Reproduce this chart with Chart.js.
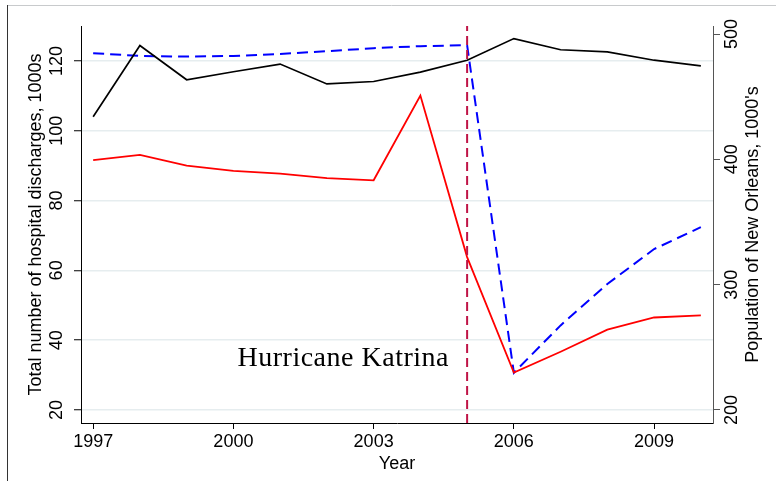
<!DOCTYPE html>
<html>
<head>
<meta charset="utf-8">
<script src="https://cdn.jsdelivr.net/npm/chart.js@4"></script>
<style>
  body { margin: 0; background: #fff; }
</style>
</head>
<body>
<canvas id="myChart" width="776" height="481"></canvas>
<script>
// Datos
const years = [1997, 1998, 1999, 2000, 2001, 2002, 2003, 2004, 2005, 2006, 2007, 2008, 2009, 2010];
const dischargesTotal = [104.0, 124.4, 114.6, 116.9, 119.1, 113.4, 114.1, 116.8, 120.2, 126.4, 123.2, 122.6, 120.2, 118.6];
const dischargesRed = [91.6, 93.1, 90.0, 88.5, 87.7, 86.4, 85.8, 110.1, 63.8, 30.7, 36.7, 43.0, 46.5, 47.1];
const population = [484.7, 482.5, 482.0, 482.5, 484.1, 486.3, 488.7, 490.3, 491.1, 229.7, 267.5, 300.5, 328.4, 345.9];
const katrinaYear = 2005;

const yearTicks = [1997, 2000, 2003, 2006, 2009];
const leftTicks = [20, 40, 60, 80, 100, 120];
const rightTicks = [200, 300, 400, 500];

const xMin = 1996.74, xMax = 2010.26;
const leftMin = 16.28, leftMax = 130;
const rightMin = 189.6, rightMax = 506.4;

Chart.defaults.font.family = '"Liberation Sans", Arial, sans-serif';
Chart.defaults.font.size = 18;
Chart.defaults.color = '#000';

function toPoints(xs, ys) {
  return xs.map((x, i) => ({ x: x, y: ys[i] }));
}

// Marco exterior y textos extra
const extras = {
  id: 'extras',
  beforeDraw(chart) {
    const ctx = chart.ctx;
    ctx.save();
    ctx.fillStyle = '#fff';
    ctx.fillRect(0, 0, chart.width, chart.height);
    ctx.lineWidth = 1;
    ctx.strokeStyle = '#c8cacc';
    ctx.beginPath();
    ctx.moveTo(7, 5.5);
    ctx.lineTo(chart.width, 5.5);
    ctx.stroke();
    ctx.strokeStyle = '#333';
    ctx.beginPath();
    ctx.moveTo(7.5, 5);
    ctx.lineTo(7.5, chart.height);
    ctx.stroke();
    ctx.restore();
  },
  afterDraw(chart) {
    const ctx = chart.ctx;
    const x = chart.scales.x;
    const y = chart.scales.y;
    const area = chart.chartArea;
    ctx.save();
    ctx.fillStyle = '#000';
    ctx.font = '28px "Liberation Serif", "DejaVu Serif", serif';
    ctx.letterSpacing = '0.5px';
    ctx.textAlign = 'center';
    ctx.textBaseline = 'alphabetic';
    ctx.fillText('Hurricane Katrina', x.getPixelForValue(2002.35), y.getPixelForValue(32.7));
    ctx.letterSpacing = '0px';

    ctx.font = '18px "Liberation Sans", Arial, sans-serif';
    ctx.translate(753, (area.top + area.bottom) / 2);
    ctx.rotate(-Math.PI / 2);
    ctx.textBaseline = 'middle';
    ctx.fillText("Population of New Orleans, 1000's", 0, 0);
    ctx.restore();
  }
};

new Chart(document.getElementById('myChart').getContext('2d'), {
  type: 'line',
  data: {
    datasets: [
      {
        data: [{ x: katrinaYear, y: leftMin }, { x: katrinaYear, y: leftMax }],
        yAxisID: 'y',
        borderColor: '#bf1446',
        borderWidth: 2,
        borderDash: [9, 5],
        pointRadius: 0
      },
      {
        data: toPoints(years, dischargesTotal),
        yAxisID: 'y',
        borderColor: '#000',
        borderWidth: 1.7,
        pointRadius: 0,
        tension: 0
      },
      {
        data: toPoints(years, dischargesRed),
        yAxisID: 'y',
        borderColor: '#ff0000',
        borderWidth: 1.8,
        pointRadius: 0,
        tension: 0
      },
      {
        data: toPoints(years, population),
        yAxisID: 'y2',
        borderColor: '#0000ff',
        borderWidth: 2,
        borderDash: [11, 6],
        pointRadius: 0,
        tension: 0
      }
    ]
  },
  options: {
    responsive: false,
    animation: false,
    layout: { padding: { top: 26, left: 0, right: 0, bottom: 0 } },
    plugins: {
      legend: { display: false },
      tooltip: { enabled: false }
    },
    scales: {
      x: {
        type: 'linear',
        min: xMin,
        max: xMax,
        afterBuildTicks: axis => { axis.ticks = yearTicks.map(v => ({ value: v })); },
        afterFit: axis => { axis.height = 58; },
        ticks: {
          callback: v => String(v),
          maxRotation: 0,
          padding: 2
        },
        grid: { drawOnChartArea: false, tickColor: '#000', tickLength: 6 },
        border: { color: '#000', width: 1 },
        title: { display: true, text: 'Year', padding: { top: 0, bottom: 6 } }
      },
      y: {
        position: 'left',
        min: leftMin,
        max: leftMax,
        afterBuildTicks: axis => { axis.ticks = leftTicks.map(v => ({ value: v })); },
        afterFit: axis => { axis.width = 81; },
        ticks: { minRotation: 90, maxRotation: 90, crossAlign: 'center', padding: 2 },
        grid: { color: '#e6edef', lineWidth: 1.5, tickColor: '#000', tickWidth: 1, tickLength: 7 },
        border: { color: '#000', width: 1 },
        title: { display: true, text: 'Total number of hospital discharges, 1000s', padding: { top: 25, bottom: 0 } }
      },
      y2: {
        position: 'right',
        min: rightMin,
        max: rightMax,
        afterBuildTicks: axis => { axis.ticks = rightTicks.map(v => ({ value: v })); },
        afterFit: axis => { axis.width = 63; },
        ticks: { minRotation: 90, maxRotation: 90, crossAlign: 'center', padding: -3 },
        grid: { drawOnChartArea: false, tickColor: '#555', tickLength: 7 },
        border: { color: '#555', width: 1 }
      }
    }
  },
  plugins: [extras]
});
</script>
</body>
</html>
